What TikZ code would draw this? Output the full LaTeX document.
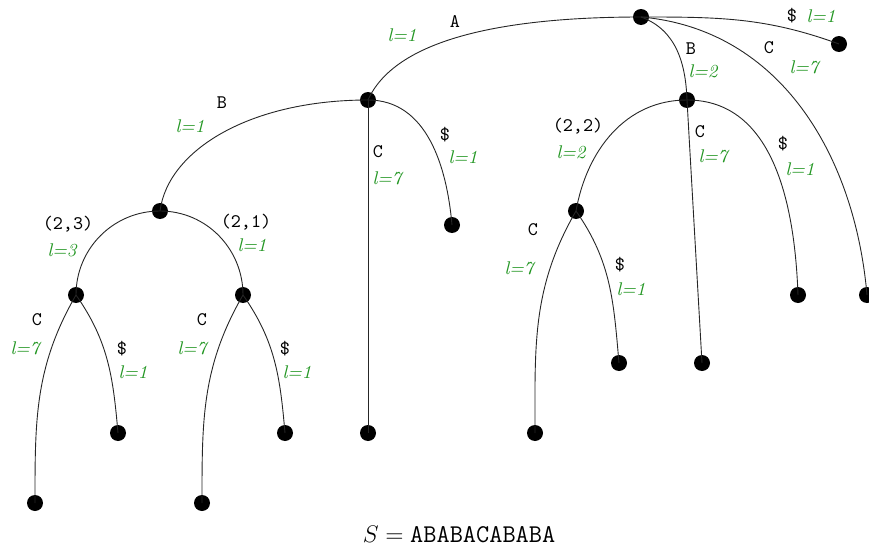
\documentclass[tikz,border=0pt]{standalone}
\definecolor{lgreen}{RGB}{34,150,34}
\begin{document}
\begin{tikzpicture}[x=0.5pt,y=-0.5pt,
  dot/.style={circle,fill=black,inner sep=0pt,minimum size=8pt},
  edge/.style={draw=black!85,line width=0.45pt},
  lbl/.style={font=\fontsize{9.6}{11}\selectfont\ttfamily,inner sep=0pt},
  len/.style={font=\fontsize{9.2}{11}\selectfont\itshape,text=lgreen,inner sep=0pt}]
\useasboundingbox (0,0) rectangle (869,546);
\clip (0,0) rectangle (869,546);
% nodes
\node[dot] (r) at (641,17) {};
\node[dot] (rd) at (839,44) {};
\node[dot] (rc) at (867,295) {};
\node[dot] (a) at (368,100) {};
\node[dot] (b) at (687,100) {};
\node[dot] (ab) at (160,211) {};
\node[dot] (ac) at (368,433) {};
\node[dot] (ad) at (452,225) {};
\node[dot] (l) at (76,295) {};
\node[dot] (m) at (243,295) {};
\node[dot] (lc) at (35,503) {};
\node[dot] (ld) at (118,433) {};
\node[dot] (mc) at (202,503) {};
\node[dot] (md) at (285,433) {};
\node[dot] (bb) at (576,211) {};
\node[dot] (bc) at (702,363) {};
\node[dot] (bd) at (798,295) {};
\node[dot] (bbc) at (535,433) {};
\node[dot] (bbd) at (619,363) {};
% edges
\draw[edge] (r.center) .. controls (500,17) and (395,40) .. (a.center);
\draw[edge] (r.center) to[out=-20,in=92] (b.center);
\draw[edge] (r.center) to[out=-5,in=95] (rc.center);
\draw[edge] (r.center) to[out=0,in=160] (rd.center);
\draw[edge] (a.center) .. controls (250,100) and (168,150) .. (ab.center);
\draw[edge] (a.center) -- (ac.center);
\draw[edge] (a.center) to[out=0,in=95] (ad.center);
\draw[edge] (ab.center) to[out=180,in=90] (l.center);
\draw[edge] (ab.center) to[out=0,in=90] (m.center);
\draw[edge] (l.center) to[out=240,in=90] (lc.center);
\draw[edge] (l.center) to[out=-55,in=95] (ld.center);
\draw[edge] (m.center) to[out=240,in=90] (mc.center);
\draw[edge] (m.center) to[out=-55,in=95] (md.center);
\draw[edge] (b.center) to[out=180,in=80] (bb.center);
\draw[edge] (b.center) -- (bc.center);
\draw[edge] (b.center) to[out=0,in=92] (bd.center);
\draw[edge] (bb.center) to[out=240,in=90] (bbc.center);
\draw[edge] (bb.center) to[out=-55,in=95] (bbd.center);
% labels
\node[lbl] (t1) at (455,22) {A};   \node[len] (g1) at (402,35) {l=1};
\node[lbl] (t2) at (691,49) {B};   \node[len] (g2) at (703,71) {l=2};
\node[lbl] (t3) at (769,48) {C};   \node[len] (g3) at (804,67) {l=7};
\node[lbl] (t4) at (792,16) {\$};  \node[len] (g4) at (821,16) {l=1};
\node[lbl] (t5) at (222,103) {B};  \node[len] (g5) at (190,126) {l=1};
\node[lbl] (t6) at (378,152) {C};  \node[len] (g6) at (387,178) {l=7};
\node[lbl] (t7) at (445,135) {\$}; \node[len] (g7) at (463,157) {l=1};
\node[lbl] (t8) at (68,224) {(2,3)}; \node[len] (g8) at (62,250) {l=3};
\node[lbl] (t9) at (246,222) {(2,1)}; \node[len] (g9) at (252,245) {l=1};
\node[lbl] (t10) at (37,320) {C};  \node[len] (g10) at (25,348) {l=7};
\node[lbl] (t11) at (122,349) {\$}; \node[len] (g11) at (133,372) {l=1};
\node[lbl] (t12) at (202,320) {C}; \node[len] (g12) at (192,348) {l=7};
\node[lbl] (t13) at (285,349) {\$}; \node[len] (g13) at (297,372) {l=1};
\node[lbl] (t14) at (578,126) {(2,2)}; \node[len] (g14) at (571,152) {l=2};
\node[lbl] (t15) at (700,132) {C}; \node[len] (g15) at (713,156) {l=7};
\node[lbl] (t16) at (783,144) {\$}; \node[len] (g16) at (800,169) {l=1};
\node[lbl] (t17) at (533,230) {C}; \node[len] (g17) at (519,268) {l=7};
\node[lbl] (t18) at (620,265) {\$}; \node[len] (g18) at (631,289) {l=1};
% caption
\node[font=\fontsize{12.8}{14}\selectfont,inner sep=0pt] (cap) at (459,534) {$S = \texttt{ABABACABABA}$};
\end{tikzpicture}
\end{document}
